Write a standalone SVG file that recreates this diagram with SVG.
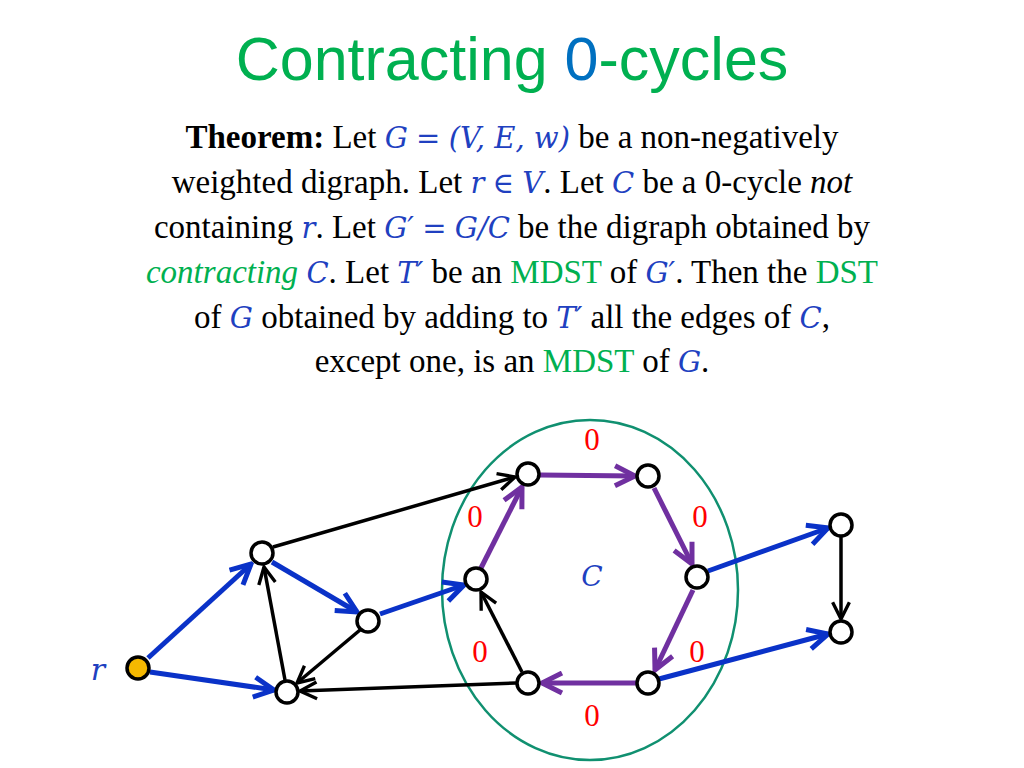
<svg xmlns="http://www.w3.org/2000/svg" width="1024" height="768" viewBox="0 0 1024 768">
<style>
.t{font-family:"Liberation Serif",serif;font-size:33px;fill:#000;text-anchor:middle}
.m{font-style:italic;fill:#2040C0;font-family:"DejaVu Serif",serif;font-size:29px}
.g{fill:#00B050}
.z{font-family:"Liberation Serif",serif;font-size:31px;fill:#FF0000;text-anchor:middle}
.n{fill:#fff;stroke:#000;stroke-width:3.5}
.bl{stroke:#0A32C8;stroke-width:5;fill:none}
.bk{stroke:#000;stroke-width:3.5;fill:none}
.pu{stroke:#7030A0;stroke-width:5;fill:none}
</style>
<defs>
<marker id="ab" viewBox="0 0 10 10" refX="9" refY="5" markerWidth="5" markerHeight="5" orient="auto" markerUnits="strokeWidth"><path d="M1,1 L9,5 L1,9" fill="none" stroke="#0A32C8" stroke-width="2"/></marker>
<marker id="ak" viewBox="0 0 10 10" refX="9" refY="5" markerWidth="6" markerHeight="6" orient="auto" markerUnits="strokeWidth"><path d="M1,1 L9,5 L1,9" fill="none" stroke="#000" stroke-width="1.6"/></marker>
<marker id="ap" viewBox="0 0 10 10" refX="9" refY="5" markerWidth="5" markerHeight="5" orient="auto" markerUnits="strokeWidth"><path d="M1,1 L9,5 L1,9" fill="none" stroke="#7030A0" stroke-width="2"/></marker>
</defs>
<text x="512" y="80" style="font-family:'Liberation Sans',sans-serif;font-size:61px;fill:#00B050;text-anchor:middle">Contracting <tspan fill="#0070C0">0</tspan>-cycles</text>
<text class="t" x="512" y="148"><tspan font-weight="bold">Theorem:</tspan> Let <tspan class="m">G</tspan> <tspan class="m">=</tspan> <tspan class="m">(V, E, w)</tspan> be a non-negatively</text>
<text class="t" x="512" y="193">weighted digraph. Let <tspan class="m">r</tspan> <tspan class="m">∈</tspan> <tspan class="m">V</tspan>. Let <tspan class="m">C</tspan> be a 0-cycle <tspan font-style="italic">not</tspan></text>
<text class="t" x="512" y="238">containing <tspan class="m">r</tspan>. Let <tspan class="m">G′</tspan> <tspan class="m">=</tspan> <tspan class="m">G/C</tspan> be the digraph obtained by</text>
<text class="t" x="512" y="283"><tspan class="g" font-style="italic">contracting</tspan> <tspan class="m">C</tspan>. Let <tspan class="m">T′</tspan> be an <tspan class="g">MDST</tspan> of <tspan class="m">G′</tspan>. Then the <tspan class="g">DST</tspan></text>
<text class="t" x="512" y="328">of <tspan class="m">G</tspan> obtained by adding to <tspan class="m">T′</tspan> all the edges of <tspan class="m">C</tspan>,</text>
<text class="t" x="512" y="372">except one, is an <tspan class="g">MDST</tspan> of <tspan class="m">G</tspan>.</text>
<ellipse cx="590" cy="590" rx="148" ry="170" fill="none" stroke="#109070" stroke-width="2.5"/>
<g id="connectors">
<line class="bl" x1="148" y1="658" x2="251" y2="564" marker-end="url(#ab)"/>
<line class="bl" x1="150" y1="672" x2="274" y2="690" marker-end="url(#ab)"/>
<line class="bl" x1="272" y1="562" x2="357" y2="612" marker-end="url(#ab)"/>
<line class="bl" x1="380" y1="614" x2="464" y2="585" marker-end="url(#ab)"/>
<line class="bk" x1="273" y1="547" x2="515" y2="477" marker-end="url(#ak)"/>
<line class="bk" x1="285" y1="680" x2="264" y2="567" marker-end="url(#ak)"/>
<line class="bk" x1="360" y1="630" x2="297" y2="683" marker-end="url(#ak)"/>
<line class="bk" x1="516" y1="683" x2="300" y2="691" marker-end="url(#ak)"/>
<line class="bk" x1="522" y1="672" x2="481" y2="592" marker-end="url(#ak)"/>
<line class="bl" x1="708" y1="571" x2="828" y2="528" marker-end="url(#ab)"/>
<line class="bl" x1="659" y1="679" x2="828" y2="634" marker-end="url(#ab)"/>
<line class="bk" x1="841" y1="537" x2="841" y2="619" marker-end="url(#ak)"/>
<line class="pu" x1="481" y1="568" x2="522" y2="487" marker-end="url(#ap)"/>
<line class="pu" x1="540" y1="475" x2="635" y2="476" marker-end="url(#ap)"/>
<line class="pu" x1="654" y1="488" x2="692" y2="564" marker-end="url(#ap)"/>
<line class="pu" x1="693" y1="590" x2="655" y2="670" marker-end="url(#ap)"/>
<line class="pu" x1="636" y1="683" x2="542" y2="683" marker-end="url(#ap)"/>
</g>
<g id="nodes">
<circle id="r" cx="138" cy="668" r="11" fill="#F5B800" stroke="#000" stroke-width="3.5"/>
<circle id="a" class="n" cx="262" cy="553" r="11"/>
<circle id="b" class="n" cx="287" cy="692" r="11"/>
<circle id="d" class="n" cx="368" cy="621" r="11"/>
<circle id="h1" class="n" cx="476" cy="579" r="11"/>
<circle id="h2" class="n" cx="528" cy="474" r="11"/>
<circle id="h3" class="n" cx="648" cy="476" r="11"/>
<circle id="h4" class="n" cx="697" cy="577" r="11"/>
<circle id="h5" class="n" cx="648" cy="683" r="11"/>
<circle id="h6" class="n" cx="528" cy="683" r="11"/>
<circle id="r1" class="n" cx="841" cy="525" r="11"/>
<circle id="r2" class="n" cx="841" cy="632" r="11"/>
</g>
<g id="labels">
<text class="z" x="592" y="450">0</text>
<text class="z" x="475" y="527">0</text>
<text class="z" x="700" y="527">0</text>
<text class="z" x="480" y="662">0</text>
<text class="z" x="697" y="662">0</text>
<text class="z" x="592" y="726">0</text>
<text x="592" y="586" style="font-family:'DejaVu Serif',serif;font-style:italic;font-size:28px;fill:#2040C0;text-anchor:middle">C</text>
<text x="98" y="680" style="font-family:'DejaVu Serif',serif;font-style:italic;font-size:30px;fill:#2040C0;text-anchor:middle">r</text>
</g>
</svg>
